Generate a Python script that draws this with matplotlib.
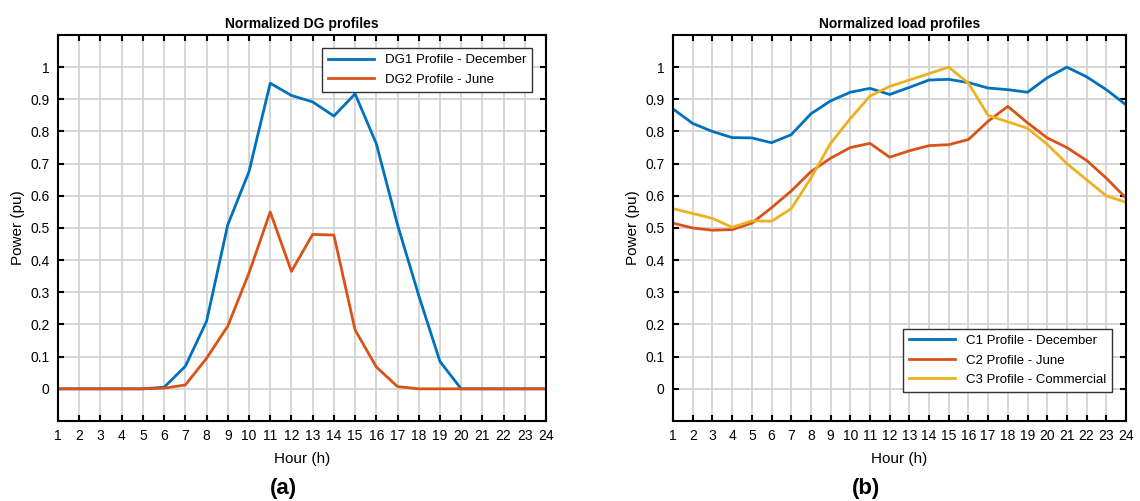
import numpy as np
import matplotlib.pyplot as plt

plt.rcParams['font.family'] = ['Liberation Sans', 'DejaVu Sans']

hours = list(range(1, 25))

# DG profiles (a)
dg1_dec = [0, 0, 0, 0, 0, 0.005, 0.07, 0.21, 0.51, 0.675, 0.95, 0.912,
           0.892, 0.848, 0.917, 0.762, 0.51, 0.29, 0.085, 0, 0, 0, 0, 0]
dg2_jun = [0, 0, 0, 0, 0, 0.002, 0.012, 0.095, 0.195, 0.36, 0.55, 0.365,
           0.48, 0.478, 0.183, 0.068, 0.007, 0, 0, 0, 0, 0, 0, 0]

# load profiles (b)
c1_dec = [0.87, 0.825, 0.80, 0.781, 0.78, 0.765, 0.79, 0.855, 0.895, 0.922, 0.934, 0.915,
          0.937, 0.96, 0.962, 0.952, 0.935, 0.93, 0.922, 0.967, 1.0, 0.97, 0.93, 0.883]
c2_jun = [0.515, 0.50, 0.493, 0.495, 0.515, 0.563, 0.615, 0.675, 0.717, 0.75, 0.763, 0.72,
          0.74, 0.756, 0.759, 0.775, 0.832, 0.878, 0.827, 0.78, 0.75, 0.71, 0.655, 0.593]
c3_com = [0.56, 0.545, 0.53, 0.502, 0.522, 0.521, 0.56, 0.655, 0.763, 0.84, 0.91, 0.94,
          0.96, 0.98, 1.0, 0.95, 0.85, 0.83, 0.81, 0.76, 0.70, 0.65, 0.60, 0.58]

blue = '#0072BD'
orange = '#D95319'
yellow = '#EDB120'

fig = plt.figure(figsize=(11.4, 5.01), dpi=100)
ax1 = fig.add_axes([0.0509, 0.1597, 0.4281, 0.7705])
ax2 = fig.add_axes([0.5904, 0.1597, 0.3973, 0.7705])


def style_axis(ax, title):
    ax.set_xlim(1, 24)
    ax.set_ylim(-0.1, 1.1)
    ax.set_xticks(hours)
    ax.set_yticks(np.arange(0, 1.01, 0.1))
    ax.set_yticklabels(['0', '0.1', '0.2', '0.3', '0.4', '0.5', '0.6', '0.7', '0.8', '0.9', '1'])
    ax.grid(True, color='#d0d0d0', linewidth=1.2)
    ax.set_axisbelow(True)
    ax.tick_params(direction='in', top=True, right=True, length=4, width=1.5,
                   labelsize=10, pad=6)
    for s in ax.spines.values():
        s.set_linewidth(1.5)
    ax.set_xlabel('Hour (h)', fontsize=11, labelpad=6)
    ax.set_ylabel('Power (pu)', fontsize=11)
    ax.set_title(title, fontsize=10, fontweight='bold', pad=5)


ax1.plot(hours, dg1_dec, color=blue, lw=2, label='DG1 Profile - December')
ax1.plot(hours, dg2_jun, color=orange, lw=2, label='DG2 Profile - June')
style_axis(ax1, 'Normalized DG profiles')
leg = ax1.legend(loc='upper right', bbox_to_anchor=(0.971, 0.966), borderaxespad=0,
                 fontsize=9.5, fancybox=False, edgecolor='#333333', framealpha=1,
                 handlelength=3.5, borderpad=0.45, labelspacing=0.55)
leg.get_frame().set_linewidth(1)

ax2.plot(hours, c1_dec, color=blue, lw=2, label='C1 Profile - December')
ax2.plot(hours, c2_jun, color=orange, lw=2, label='C2 Profile - June')
ax2.plot(hours, c3_com, color=yellow, lw=2, label='C3 Profile - Commercial')
style_axis(ax2, 'Normalized load profiles')
leg = ax2.legend(loc='lower right', bbox_to_anchor=(0.969, 0.075), borderaxespad=0,
                 fontsize=9.5, fancybox=False, edgecolor='#333333', framealpha=1,
                 handlelength=3.5, borderpad=0.45, labelspacing=0.55)
leg.get_frame().set_linewidth(1)

fig.text(0.2482, 0.024, '(a)', ha='center', va='center', fontsize=16, fontweight='bold')
fig.text(0.7596, 0.024, '(b)', ha='center', va='center', fontsize=16, fontweight='bold')

fig.savefig('out.png', dpi=100)
